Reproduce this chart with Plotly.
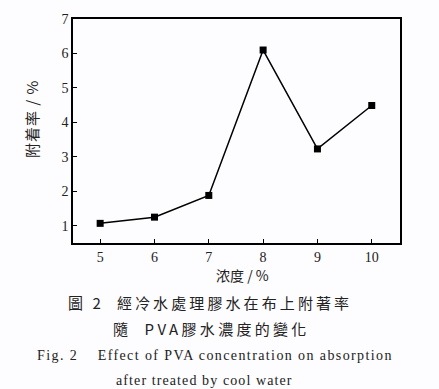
import plotly.graph_objects as go

concentration = [5, 6, 7, 8, 9, 10]
adhesion_rate = [1.07, 1.25, 1.88, 6.10, 3.23, 4.49]
x_ticks = [5, 6, 7, 8, 9, 10]
y_ticks = [1, 2, 3, 4, 5, 6, 7]

W, H = 439, 389
L, R, T, B = 73, 39, 19, 146
plot_h = H - T - B

def py(y_px):
    return (H - B - y_px) / plot_h

def px(x_px):
    return (x_px - L) / (W - L - R)

serif = "Liberation Serif, Times New Roman, serif"
cjk = "Noto Sans CJK TC, Noto Sans CJK SC, sans-serif"

def spaced(text, ls):
    return f'<span style="letter-spacing:{ls}px">{text}</span>'

fig = go.Figure()
fig.add_trace(go.Scatter(
    x=concentration, y=adhesion_rate, mode="lines+markers",
    line=dict(color="black", width=1.5),
    marker=dict(symbol="square", size=7, color="black"),
    showlegend=False,
))

axis_common = dict(
    showgrid=False, zeroline=False, showline=True, linecolor="black", linewidth=1.5,
    mirror=True, ticks="inside", ticklen=4, tickwidth=1.2, tickcolor="black",
    tickfont=dict(family=serif, size=14, color="#222"),
)
fig.update_xaxes(range=[4.5, 10.52], tickvals=x_ticks, **axis_common)
fig.update_yaxes(range=[0.5, 7.0], tickvals=y_ticks, **axis_common)

annotations = [
    dict(text=spaced("附着率 / %", 1), x=px(31), y=py(119), textangle=-90,
         font=dict(family=cjk, size=15, color="#222")),
    dict(text="浓度 / %", x=px(242), y=py(275),
         font=dict(family=cjk, size=14, color="#222")),
    dict(text=spaced("圖 2  經冷水處理膠水在布上附著率", 3.1), x=px(210), y=py(302),
         font=dict(family=cjk, size=15, color="#222")),
    dict(text=spaced("隨  PVA膠水濃度的變化", 3.3), x=px(211), y=py(328),
         font=dict(family=cjk, size=15, color="#222")),
    dict(text=spaced("Fig. 2    Effect of PVA concentration on absorption", 1.4), x=px(215), y=py(355),
         font=dict(family=serif, size=14, color="#222")),
    dict(text=spaced("after treated by cool water", 1.1), x=px(204), y=py(380),
         font=dict(family=serif, size=14, color="#222")),
]
for a in annotations:
    a.update(xref="paper", yref="paper", showarrow=False, xanchor="center", yanchor="middle")
fig.update_layout(
    width=W, height=H, margin=dict(l=L, r=R, t=T, b=B),
    paper_bgcolor="#fdfcfe", plot_bgcolor="#fdfcfe",
    annotations=annotations,
)
fig.write_html("out.html", config={"displayModeBar": False},
               post_script="document.body.style.margin='0';document.body.style.overflow='hidden';")
